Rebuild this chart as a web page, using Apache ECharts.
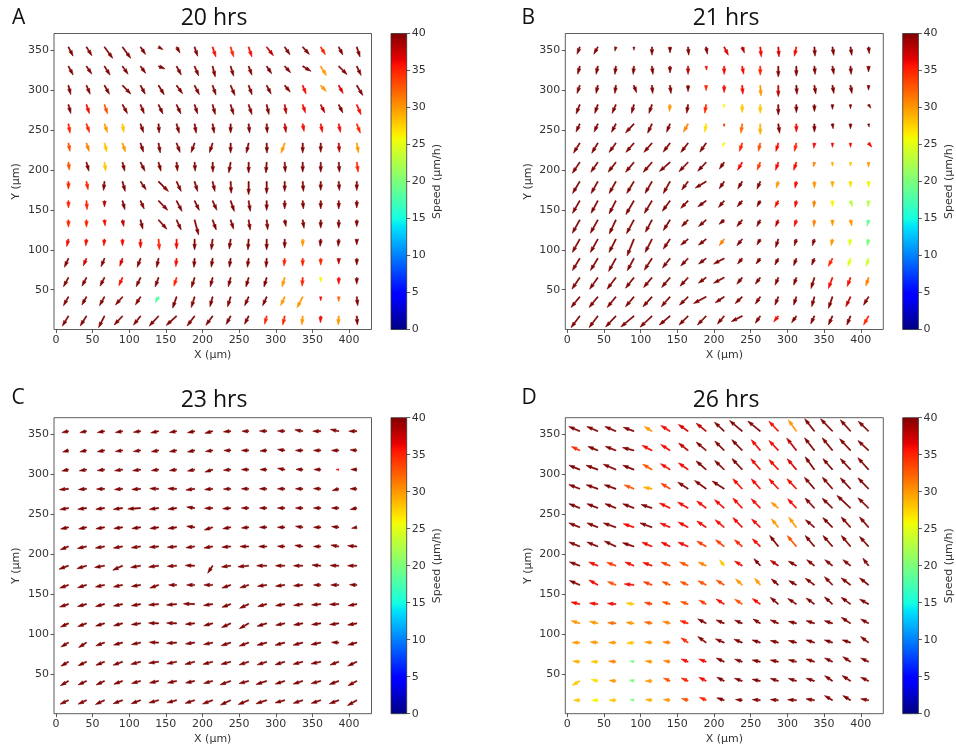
<!DOCTYPE html>
<html><head><meta charset="utf-8">
<script src="https://cdn.jsdelivr.net/npm/echarts@6/dist/echarts.min.js"></script>
<style>html,body{margin:0;padding:0;background:#fff}#c{width:956px;height:751px}</style>
</head><body><div id="c"></div>
<script>
// ---------------- DATA ----------------
const xPos = [17.0, 41.6, 66.2, 90.8, 115.4, 140.0, 164.6, 189.2, 213.8, 238.4, 263.0, 287.6, 312.2, 336.8, 361.4, 386.0, 410.6];
// rows listed from top (largest Y) to bottom
const yPos = [354.0, 329.9, 305.9, 281.8, 257.7, 233.6, 209.6, 185.5, 161.4, 137.4, 113.3, 89.2, 65.2, 41.1, 17.0];
const xTicks = [0, 50, 100, 150, 200, 250, 300, 350, 400];
const yTicks = [50, 100, 150, 200, 250, 300, 350];
const cbTicks = [0, 5, 10, 15, 20, 25, 30, 35, 40];
const titles = ['20 hrs', '21 hrs', '23 hrs', '26 hrs'];
const letters = ['A', 'B', 'C', 'D'];

// angle (deg, counter-clockwise from +X), arrow magnitude, colour speed (µm/h)
const A_ang = [
[-63,-58,-54,-54,-56,-30,-61,-72,-72,-73,-72,-52,-56,-48,-59,-63,-72],
[-62,-56,-58,-55,-54,-22,-62,-67,-76,-73,-70,-56,-47,-31,-59,-45,-65],
[-76,-67,-61,-46,-62,-59,-54,-63,-71,-67,-70,-63,-50,-69,-47,-62,-59],
[-75,-72,-72,-61,-68,-65,-65,-72,-75,-73,-72,-77,-80,-72,-64,-64,-67],
[-80,-71,-71,-81,-71,-86,-74,-80,-80,-90,-84,-86,-81,-80,-79,-79,-69],
[-79,-72,-75,-72,-72,-80,-69,-110,-108,-90,-103,-88,-110,-90,-90,-86,-80],
[-83,-75,-82,-76,-64,-75,-84,-86,-88,-100,-90,-94,-86,-90,-90,-86,-82],
[-90,-79,-96,-75,-56,-45,-65,-73,-77,-87,-90,-90,-90,-86,-90,-86,-90],
[-90,-86,-90,-75,-66,-46,-63,-64,-66,-71,-81,-90,-90,-85,-90,-90,-90],
[-90,-90,-84,-79,-76,-48,-65,-75,-70,-72,-81,-84,-79,-81,-90,-90,-90],
[-103,-96,-96,-90,-90,-85,-90,-90,-97,-98,-94,-90,-90,-90,-95,-95,-90],
[-114,-113,-112,-109,-110,-102,-95,-94,-98,-98,-98,-94,-95,-90,-90,-90,-90],
[-118,-117,-117,-114,-115,-110,-107,-107,-104,-104,-106,-106,-106,-94,-90,-90,-90],
[-119,-119,-119,-131,-122,-119,-109,-107,-105,-107,-114,-114,-114,-117,-90,-90,-84],
[-121,-122,-117,-133,-128,-133,-138,-127,-126,-118,-116,-104,-102,-96,-93,-94,-86]];
const A_mag = [
[41,41,56,56,36,21,28,39,42,42,42,44,38,40,36,36,42],
[40,38,42,39,35,28,40,42,44,42,38,36,35,39,44,47,41],
[38,38,41,48,40,44,41,42,41,44,40,39,35,37,33,37,47],
[37,38,39,41,39,41,41,39,41,42,42,41,38,35,37,37,44],
[38,37,37,35,37,37,39,38,38,37,37,37,35,31,35,35,40],
[34,35,37,38,38,40,40,40,40,40,41,40,43,40,37,37,40],
[32,37,36,37,40,37,36,36,40,43,43,43,40,40,40,40,40],
[31,34,36,41,40,56,44,42,41,47,53,49,40,40,36,36,36],
[29,36,25,37,36,53,48,43,42,45,43,39,33,33,33,33,29],
[29,29,24,27,38,50,44,62,43,39,41,40,27,34,33,33,27],
[30,27,27,27,36,43,40,43,43,40,43,43,36,29,29,29,23],
[39,33,36,33,38,37,33,36,36,36,36,36,31,31,27,23,27],
[42,39,39,36,41,40,36,42,38,38,39,39,39,35,19,27,27],
[41,38,41,43,38,27,48,45,41,42,39,39,39,50,16,19,36],
[47,47,52,49,46,55,56,50,46,38,37,34,37,36,27,36,36]];
const A_spd = [
[40,40,40,40,40,40,40,40,36,35,36,38,40,40,35,40,40],
[40,40,40,40,40,40,40,40,40,40,40,40,40,40,30,40,40],
[40,40,40,40,40,40,40,40,40,40,40,40,40,36,30,37,40],
[40,36,33,40,40,40,40,40,40,40,40,40,38,36,38,40,36],
[35,35,30,28,40,40,40,40,40,40,40,40,38,36,36,36,35],
[33,31,28,30,40,40,40,40,40,40,40,40,30,40,40,38,30],
[33,40,28,40,40,40,40,40,40,40,40,40,40,40,40,40,35],
[35,35,40,40,40,40,40,40,40,40,40,40,40,40,40,40,40],
[35,35,38,40,40,40,40,40,40,40,40,40,40,40,40,40,40],
[35,35,36,38,40,40,40,40,40,40,40,40,40,40,40,40,40],
[36,36,36,36,36,35,36,40,40,40,40,40,40,30,40,40,40],
[40,37,40,37,40,40,36,40,40,40,40,40,35,35,35,38,40],
[40,40,40,36,40,40,35,40,40,40,40,40,30,35,26,36,40],
[40,40,40,40,40,18,40,40,40,40,40,40,30,30,36,32,40],
[40,40,40,40,40,40,40,40,40,40,40,35,35,30,36,30,40]];

const B_ang = [
[-110,-119,-103,-90,-90,-90,-85,-80,-63,-70,-84,-86,-102,-86,-81,-81,-84],
[-104,-102,-97,-95,-83,-90,-90,-80,-90,-80,-90,-90,-90,-85,-80,-85,-90],
[-108,-102,-97,-70,-85,-83,-90,-90,-90,-86,-86,-90,-86,-81,-80,-80,-90],
[-111,-109,-113,-105,-109,-95,-99,-99,-100,-90,-90,-90,-90,-90,-90,-90,-57],
[-114,-114,-117,-133,-115,-112,-119,-99,-90,-98,-90,-82,-90,-90,-82,-90,-80],
[-122,-121,-126,-131,-131,-127,-128,-125,-115,-108,-103,-106,-103,-97,-90,-90,-50],
[-124,-125,-128,-130,-131,-139,-134,-133,-125,-120,-111,-109,-108,-102,-90,-90,-90],
[-121,-119,-119,-121,-120,-119,-127,-149,-124,-121,-113,-107,-101,-90,-90,-90,-90],
[-120,-118,-117,-120,-121,-126,-134,-144,-130,-130,-119,-117,-101,-96,-90,-72,-96],
[-119,-119,-115,-118,-118,-122,-134,-139,-139,-129,-117,-112,-107,-96,-90,-77,-103],
[-119,-119,-117,-112,-117,-124,-141,-142,-127,-129,-119,-108,-107,-107,-101,-101,-101],
[-121,-121,-119,-118,-123,-128,-134,-143,-152,-130,-127,-117,-110,-112,-117,-108,-106],
[-124,-125,-127,-128,-130,-130,-133,-144,-152,-129,-127,-113,-109,-107,-110,-110,-108],
[-129,-129,-129,-130,-132,-131,-136,-152,-146,-136,-124,-112,-108,-105,-109,-115,-121],
[-127,-127,-133,-140,-137,-140,-135,-134,-130,-153,-124,-128,-125,-115,-114,-112,-119]];
const B_mag = [
[31,33,17,13,33,24,33,29,37,26,40,40,38,37,34,34,27],
[33,33,33,33,33,27,33,16,33,33,36,43,40,33,33,33,23],
[34,33,33,31,33,33,25,21,29,36,43,45,36,35,33,33,19],
[40,37,38,36,37,28,35,35,13,32,35,41,32,28,19,16,17],
[36,36,38,49,41,36,38,34,11,38,43,38,33,33,20,20,13],
[47,47,46,49,49,45,47,44,15,35,34,35,34,21,17,17,21],
[53,49,50,52,53,56,52,49,33,37,34,34,34,19,16,16,19],
[56,55,55,56,55,55,42,51,35,34,33,28,27,27,23,23,23],
[58,57,59,64,59,52,42,41,35,31,27,30,27,27,24,25,24],
[61,61,62,63,56,50,37,40,27,34,30,29,28,27,24,25,25],
[61,61,60,72,60,48,38,39,33,34,27,35,28,28,27,27,27],
[57,57,60,56,56,49,42,38,48,29,28,30,31,29,36,34,33],
[56,57,58,54,52,52,47,38,48,34,33,33,32,46,47,38,35],
[55,55,55,52,54,53,48,57,43,39,35,36,35,41,49,44,39],
[58,58,60,68,65,56,51,50,42,49,35,30,33,35,39,39,41]];
const B_spd = [
[40,40,40,40,40,40,40,40,37,38,36,37,36,40,40,40,40],
[40,40,40,40,40,40,38,36,36,36,35,40,40,40,40,40,40],
[40,40,40,40,40,40,40,35,36,36,30,38,40,40,40,40,40],
[40,40,40,40,40,30,40,35,26,28,28,40,40,40,40,40,40],
[40,40,40,40,40,40,31,27,35,32,29,40,36,40,40,40,40],
[40,40,40,40,40,40,40,40,26,35,33,36,35,36,36,36,36],
[40,40,40,40,40,40,40,40,40,36,34,36,36,31,29,28,30],
[40,40,40,40,40,40,40,40,40,40,40,30,36,30,29,27,26],
[40,40,40,40,40,40,40,40,40,40,40,36,36,31,26,23,23],
[40,40,40,40,40,40,40,40,40,40,40,38,36,31,30,30,19],
[40,40,40,40,40,40,40,40,31,40,40,40,40,40,30,25,20],
[40,40,40,40,40,40,40,40,40,40,40,40,40,40,35,25,24],
[40,40,40,40,40,40,40,40,40,40,40,40,40,40,36,36,31],
[40,40,40,40,40,40,40,40,40,40,40,40,40,40,40,38,40],
[40,40,40,40,40,40,40,40,40,40,40,36,40,40,40,40,35]];

const C_ang = [
[-168,-168,-170,-170,-172,-168,-170,-168,-165,-175,180,178,178,170,180,168,180],
[-165,-168,-170,-172,-172,-170,-170,-168,-172,180,180,-175,172,180,180,180,175],
[-168,-170,-172,-172,-172,-172,-172,-168,-162,-175,180,180,170,178,180,180,178],
[-175,-175,-178,-175,-176,178,178,-172,-175,-178,180,180,180,180,178,-165,180],
[-170,-172,-172,-172,-176,-172,-172,172,-178,-175,180,180,180,180,180,180,-168],
[-168,-168,-170,-172,-172,-172,-172,172,-162,-170,-175,180,180,172,180,174,-170],
[-158,-168,-170,-170,-172,-175,-175,-172,-170,-175,180,180,178,172,180,170,175],
[-160,-163,-170,-155,-170,-172,-176,178,-123,-172,-174,180,180,180,175,178,180],
[-160,-163,-168,-168,-170,-160,180,180,180,-160,-162,-172,-172,-175,180,180,178],
[-162,-165,-165,-168,-170,-175,-175,178,-172,-160,-155,-165,-170,-172,-175,-178,-170],
[-155,-160,-163,-165,-172,178,178,-175,-165,-155,-150,-163,-168,-170,-172,-172,-170],
[-150,-148,-160,-165,-168,178,-176,-172,-168,-162,-160,-165,-165,-165,-168,178,-165],
[-150,-155,-158,-160,-165,-172,-168,-165,-165,-165,-162,-162,-163,-165,-168,-160,-155],
[-150,-155,-155,-160,-165,-168,-168,-168,-165,-160,-165,-162,-162,-162,-165,-160,-152],
[-155,-155,-155,-160,-160,-165,-165,-162,-160,-155,-158,-162,-165,-162,-162,-160,-150]];
const C_mag = [
[27,27,29,29,29,32,29,29,32,29,27,29,29,32,32,35,32],
[24,27,29,29,29,29,29,29,29,27,29,27,29,29,29,29,27],
[27,29,29,32,32,29,29,29,32,29,29,27,29,27,27,11,24],
[37,32,32,32,35,35,35,35,32,29,29,29,29,29,29,27,27],
[35,35,35,37,51,37,35,32,32,32,29,29,29,29,29,29,27],
[32,32,35,35,35,35,35,32,35,32,29,29,29,29,29,29,21],
[35,37,37,37,37,37,37,35,35,35,35,32,29,32,29,32,37],
[40,40,40,43,40,40,37,37,36,37,43,40,37,37,35,35,37],
[37,37,37,37,37,37,32,32,35,37,37,37,37,37,29,32,29],
[37,37,37,37,37,40,40,45,37,37,40,37,37,37,37,37,35],
[35,37,37,37,37,40,40,37,37,40,43,40,37,37,37,37,37],
[35,37,37,37,37,37,40,37,37,40,40,40,40,40,40,29,37],
[35,37,37,40,40,40,40,40,40,40,40,40,40,40,40,37,40],
[37,37,37,37,37,37,37,37,37,45,40,45,40,40,40,40,40],
[37,37,40,40,40,40,40,40,43,45,45,45,40,40,40,40,43]];
const C_spd = [
[40,40,40,40,40,40,40,40,40,40,40,40,40,40,40,40,40],
[40,40,40,40,40,40,40,40,40,40,40,40,40,40,40,40,40],
[40,40,40,40,40,40,40,40,40,40,40,40,40,40,40,36,40],
[40,40,40,40,40,40,40,40,40,40,40,40,40,40,40,40,40],
[40,40,40,40,40,40,40,40,40,40,40,40,40,40,40,40,40],
[40,40,40,40,40,40,40,40,40,40,40,40,40,40,40,40,40],
[40,40,40,40,40,40,40,40,40,40,40,40,40,40,40,40,40],
[40,40,40,40,40,40,40,40,40,40,40,40,40,40,40,40,40],
[40,40,40,40,40,40,40,40,40,40,40,40,40,40,40,40,40],
[40,40,40,40,40,40,40,40,40,40,40,40,40,40,40,40,40],
[40,40,40,40,40,40,40,40,40,40,40,40,40,40,40,40,40],
[40,40,40,40,40,40,40,40,40,40,40,40,40,40,40,40,40],
[40,40,40,40,40,40,40,40,40,40,40,40,40,40,40,40,40],
[40,40,40,40,40,40,40,40,40,40,40,40,40,40,40,40,40],
[40,40,40,40,40,40,40,40,40,40,40,40,40,40,40,40,40]];

const D_ang = [
[157,157,157,160,149,148,145,141,137,140,141,133,125,128,134,132,136],
[155,158,159,166,153,147,142,140,135,134,130,133,128,128,129,133,137],
[158,160,157,159,150,148,145,139,136,133,131,133,130,126,131,133,132],
[159,161,161,158,169,148,147,144,147,133,132,133,133,131,131,133,134],
[158,158,158,159,162,155,150,143,139,133,134,141,133,133,136,137,136],
[158,158,161,161,160,157,152,146,140,134,136,129,127,140,135,132,131],
[158,158,155,162,157,154,157,150,142,139,136,128,130,130,131,130,132],
[160,158,160,158,160,158,157,155,128,149,132,146,150,142,142,142,127],
[157,151,158,174,159,157,157,153,148,138,130,139,150,144,134,143,142],
[167,173,175,173,168,164,161,151,148,147,145,140,147,144,138,144,151],
[163,167,175,173,170,165,162,152,157,157,149,157,166,162,162,147,152],
[180,175,180,-175,175,175,146,144,157,158,162,166,166,162,162,162,143],
[175,180,175,170,174,171,159,160,155,161,168,168,166,162,155,147,155],
[-150,168,175,168,180,156,157,153,153,161,168,162,162,162,146,147,155],
[180,180,180,170,174,174,166,156,162,174,175,175,176,171,150,149,170]];
const D_mag = [
[48,48,48,45,36,43,47,51,53,66,64,55,56,63,69,61,57],
[37,43,45,47,45,44,48,52,53,60,56,55,63,64,65,64,58],
[47,50,55,48,43,45,47,53,53,60,58,55,57,63,58,60,64],
[47,49,49,42,35,43,49,57,57,55,54,55,55,61,62,60,61],
[47,47,47,48,46,47,48,47,51,55,52,38,51,55,57,74,59],
[47,47,53,45,51,44,45,45,47,54,48,44,51,47,55,56,55],
[47,47,51,48,44,40,44,43,44,41,44,56,57,57,58,57,54],
[44,39,39,39,39,39,37,35,30,36,38,39,37,39,39,39,38],
[45,41,36,39,37,35,35,37,38,36,35,37,35,45,46,47,46],
[36,34,34,32,31,33,32,33,38,36,39,42,41,41,43,46,41],
[36,34,33,32,31,30,34,38,35,33,34,35,33,35,34,44,36],
[31,31,29,29,29,29,34,41,38,36,34,33,33,35,34,35,40],
[28,27,29,16,27,27,30,31,35,32,33,33,33,35,35,37,35],
[35,27,27,19,27,29,30,33,33,33,33,34,34,35,38,40,35],
[25,25,27,16,27,27,27,29,31,27,32,32,35,34,37,36,32]];
const D_spd = [
[40,40,40,40,30,36,37,38,40,40,40,36,30,40,40,40,40],
[35,40,40,40,36,36,38,40,40,40,36,36,38,40,40,40,40],
[40,40,40,40,33,36,36,40,40,40,36,36,37,40,40,40,40],
[40,40,40,33,29,34,40,40,40,36,36,36,36,40,40,40,40],
[40,40,40,40,40,36,36,36,36,36,36,30,36,40,40,40,40],
[40,40,40,36,40,36,36,36,36,36,36,30,30,40,40,40,40],
[40,40,40,40,36,36,36,34,34,35,36,40,33,40,40,40,40],
[40,36,34,36,36,34,33,31,28,36,40,38,40,40,40,40,40],
[40,36,33,36,34,33,33,33,33,30,30,40,40,40,40,40,40],
[36,36,36,28,34,33,33,34,36,33,36,40,40,40,40,40,40],
[30,30,32,30,32,31,35,40,40,40,40,40,40,40,40,40,40],
[30,30,30,28,30,31,35,40,40,40,40,40,40,40,40,40,40],
[29,28,31,20,30,31,36,36,40,40,40,40,40,40,40,40,40],
[28,27,30,20,30,33,35,36,40,40,40,40,40,40,40,40,40],
[28,26,28,20,29,30,33,35,40,40,40,40,40,40,40,40,40]];

// ---------------- STYLE / LAYOUT ----------------
const K = 0.25;      // px per unit magnitude
const W = 1.15;      // quiver shaft width px
const EDGE = 0.6;    // soft edge to mimic antialiased raster
const SMAX = 40;
const plotBoxes = [
  {left: 54, top: 33.5, width: 317.5, height: 296, cbLeft: 391, tx: 214, ty: 18.5, lx: 12, ly: 18},
  {left: 565.3, top: 33.5, width: 318, height: 296, cbLeft: 902.7, tx: 726, ty: 18.5, lx: 521.5, ly: 18},
  {left: 54, top: 417.7, width: 317.5, height: 296, cbLeft: 391, tx: 214, ty: 400, lx: 11.5, ly: 398},
  {left: 565.3, top: 417.7, width: 318, height: 296, cbLeft: 902.7, tx: 726, ty: 400, lx: 521.5, ly: 398}
];
const JR = [[0,0],[0.35,0],[0.66,1],[0.89,1],[1,0.5]];
const JG = [[0,0],[0.125,0],[0.375,1],[0.64,1],[0.91,0],[1,0]];
const JB = [[0,0.5],[0.11,1],[0.34,1],[0.65,0],[1,0]];
function interp(p, t) {
  for (let i = 0; i < p.length - 1; i++) {
    if (t <= p[i+1][0]) { const a = p[i], b = p[i+1]; return a[1] + (b[1]-a[1])*(t-a[0])/(b[0]-a[0]); }
  }
  return p[p.length-1][1];
}
function jet(t) {
  t = Math.max(0, Math.min(1, t));
  return 'rgb(' + [JR, JG, JB].map(p => Math.round(255*interp(p, t))).join(',') + ')';
}
function arrowPts(px, py, angDeg, L, w) {
  const hl = 5, hal = 4.5, hw = 3, minsh = 5;
  const Lw = L / w;
  let xs, ys;
  if (Lw >= minsh) {
    xs = [0, Lw-hal, Lw-hl, Lw, Lw-hl, Lw-hal, 0];
    ys = [0.5, 0.5, hw/2, 0, -hw/2, -0.5, -0.5];
  } else {
    const s = Lw / minsh;
    xs = [0, minsh-hal, minsh-hl, minsh, minsh-hl, minsh-hal, 0].map(v => v*s);
    ys = [0.5, 0.5, hw/2, 0, -hw/2, -0.5, -0.5].map(v => v*s);
  }
  const a = angDeg*Math.PI/180, c = Math.cos(a), s = Math.sin(a);
  return xs.map((x, i) => [px + w*(x*c - ys[i]*s), py - w*(x*s + ys[i]*c)]);
}
function buildData(ang, mag, spd) {
  const out = [];
  for (let r = 0; r < yPos.length; r++)
    for (let c = 0; c < xPos.length; c++)
      out.push([xPos[c], yPos[r], ang[r][c], mag[r][c], spd[r][c]]);
  return out;
}
const panels = [[A_ang, A_mag, A_spd], [B_ang, B_mag, B_spd], [C_ang, C_mag, C_spd], [D_ang, D_mag, D_spd]];

const FONT = 'DejaVu Sans';
const TXT = '#333';
const grid = [], xAxis = [], yAxis = [], series = [], graphic = [];
const stops = [];
for (let i = 0; i <= 128; i++) stops.push({offset: i/128, color: jet(i/128)});

plotBoxes.forEach((b, i) => {
  grid.push({left: b.left, top: b.top, width: b.width, height: b.height, show: true, borderColor: '#333', borderWidth: 0.8, containLabel: false});
  xAxis.push({type: 'value', gridIndex: i, min: -2.7, max: 430.7,
    axisLine: {show: false, onZero: false},
    axisTick: {show: true, length: 3.5, lineStyle: {color: '#333', width: 0.8}, customValues: xTicks},
    axisLabel: {customValues: xTicks, fontSize: 11, color: TXT, fontFamily: FONT, margin: 5},
    splitLine: {show: false},
    name: 'X (µm)', nameLocation: 'middle', nameGap: 20, nameTextStyle: {fontSize: 11, color: TXT, fontFamily: FONT}});
  yAxis.push({type: 'value', gridIndex: i, min: 0.15, max: 370.9,
    axisLine: {show: false, onZero: false},
    axisTick: {show: true, length: 3.5, lineStyle: {color: '#333', width: 0.8}, customValues: yTicks},
    axisLabel: {customValues: yTicks, fontSize: 11, color: TXT, fontFamily: FONT, margin: 5},
    splitLine: {show: false},
    name: 'Y (µm)', nameLocation: 'middle', nameGap: 32, nameTextStyle: {fontSize: 11, color: TXT, fontFamily: FONT}});
});
plotBoxes.forEach((b, i) => {
  grid.push({left: b.cbLeft, top: b.top, width: 15.7, height: b.height, show: false});
  xAxis.push({type: 'value', gridIndex: 4 + i, min: 0, max: 1, show: false});
  yAxis.push({type: 'value', gridIndex: 4 + i, min: 0, max: 40, interval: 5, position: 'right',
    axisLine: {show: false, onZero: false},
    axisTick: {show: true, length: 3.5, lineStyle: {color: '#333', width: 0.8}},
    axisLabel: {fontSize: 11, color: TXT, fontFamily: FONT, margin: 5},
    splitLine: {show: false},
    name: 'Speed (µm/h)', nameLocation: 'middle', nameRotate: 90, nameGap: 25,
    nameTextStyle: {fontSize: 11, color: TXT, fontFamily: FONT}});
});

panels.forEach((p, i) => {
  series.push({
    type: 'custom', xAxisIndex: i, yAxisIndex: i, clip: true, animation: false,
    data: buildData(p[0], p[1], p[2]),
    encode: {x: 0, y: 1},
    renderItem: function (params, api) {
      const pt = api.coord([api.value(0), api.value(1)]);
      const pts = arrowPts(pt[0], pt[1], api.value(2), api.value(3)*K, W);
      const col = jet(api.value(4)/SMAX);
      return {type: 'polygon', shape: {points: pts}, style: {fill: col, stroke: col, lineWidth: EDGE, lineJoin: 'round'}};
    }
  });
  series.push({
    type: 'custom', xAxisIndex: 4 + i, yAxisIndex: 4 + i, animation: false, silent: true,
    data: [[0.5, 20]],
    renderItem: function (params, api) {
      const p0 = api.coord([0, 40]), p1 = api.coord([1, 0]);
      return {type: 'rect', shape: {x: p0[0], y: p0[1], width: p1[0]-p0[0], height: p1[1]-p0[1]},
        style: {fill: new echarts.graphic.LinearGradient(0, 1, 0, 0, stops), stroke: '#333', lineWidth: 0.8}};
    }
  });
});

plotBoxes.forEach((b, i) => {
  graphic.push({type: 'text', x: b.tx, y: b.ty, style: {text: titles[i], font: '23px "Open Sans"', fill: '#111', textAlign: 'center', textVerticalAlign: 'middle'}});
  graphic.push({type: 'text', x: b.lx, y: b.ly, style: {text: letters[i], font: '21px "Open Sans"', fill: '#111', textAlign: 'left', textVerticalAlign: 'middle'}});
});

const chart = echarts.init(document.getElementById('c'), null, {renderer: 'canvas'});
chart.setOption({animation: false, backgroundColor: '#fff', grid, xAxis, yAxis, series, graphic});
</script>
</body></html>
